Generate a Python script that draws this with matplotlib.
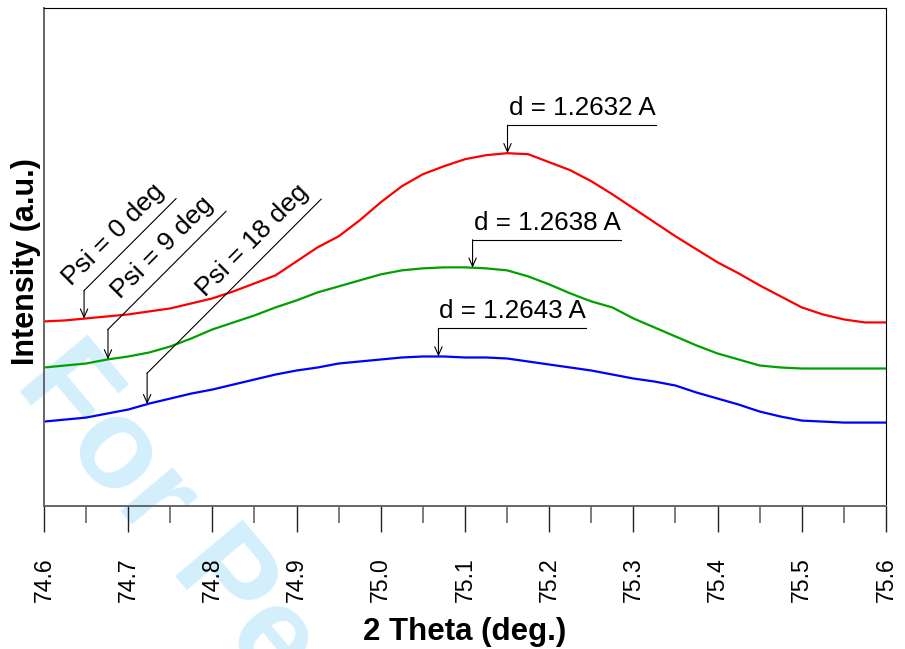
import matplotlib
matplotlib.use("Agg")
import matplotlib.pyplot as plt
from matplotlib.ticker import MultipleLocator
import numpy as np

plt.rcParams['font.family'] = ['Liberation Sans', 'DejaVu Sans']

# 2 theta grid (deg.)
two_theta = np.linspace(74.6, 75.6, 41)

# intensities (a.u.)
psi0 = [184, 185, 187, 189, 191, 194, 197, 202, 207, 214, 222, 230, 244, 258, 269,
        285, 303, 319, 331, 339, 346, 350, 352, 351, 343, 335, 324, 311, 297, 283,
        269, 256, 243, 232, 220, 209, 198, 191, 186, 183, 183]
psi9 = [138, 140, 142, 146, 149, 153, 159, 167, 176, 183, 190, 198, 205, 213, 219,
        225, 231, 235, 237, 238, 238, 237, 235, 229, 221, 212, 204, 198, 187, 178,
        169, 160, 152, 146, 140, 138, 137, 137, 137, 137, 137]
psi18 = [84, 86, 88, 92, 96, 102, 107, 112, 116, 121, 126, 131, 135, 138, 142,
         144, 146, 148, 149, 149, 148, 148, 147, 144, 141, 138, 135, 131, 127, 124,
         120, 113, 107, 101, 94, 89, 85, 84, 83, 83, 83]

xticks = [74.6, 74.7, 74.8, 74.9, 75.0, 75.1, 75.2, 75.3, 75.4, 75.5, 75.6]
xtick_labels = ['74.6', '74.7', '74.8', '74.9', '75.0', '75.1', '75.2', '75.3', '75.4', '75.5', '75.6']

psi_labels = ['Psi = 0 deg', 'Psi = 9 deg', 'Psi = 18 deg']
psi_pos = [74.6476, 74.676, 74.7225]
d_labels = ['d = 1.2632 A', 'd = 1.2638 A', 'd = 1.2643 A']
d_pos = [75.1505, 75.109, 75.0685]

fig = plt.figure(figsize=(9.05, 6.49), dpi=100)

# watermark behind everything
fig.text(0.0155, 0.408, 'For Peer Review', fontsize=92, fontweight='bold',
         color='#d3effc', rotation=-50, rotation_mode='anchor',
         ha='left', va='baseline', zorder=-5)

ax = fig.add_axes([0.0486, 0.2208, 0.9304, 0.7669])
ax.patch.set_visible(False)

curves = [psi0, psi9, psi18]
colors = ['#ff0000', '#00a000', '#0000ff']
for yv, c in zip(curves, colors):
    ax.plot(two_theta, yv, color=c, lw=1.6)

ax.set_xlim(74.6, 75.6)
ax.set_ylim(0, 497)
ax.set_yticks([])
ax.set_xticks(xticks)
ax.set_xticklabels(xtick_labels, rotation=90, fontsize=16.6)
ax.xaxis.set_minor_locator(MultipleLocator(0.05))
ax.tick_params(axis='x', which='major', direction='out', length=19, width=1.0,
               color='#222222', pad=18)
ax.tick_params(axis='x', which='minor', direction='out', length=12, width=1.2,
               color='#666666')

for s in ['left', 'bottom']:
    ax.spines[s].set_color('#666666')
    ax.spines[s].set_linewidth(1.4)
for s in ['top', 'right']:
    ax.spines[s].set_color('black')
    ax.spines[s].set_linewidth(0.8)

ax.set_xlabel('2 Theta (deg.)', fontsize=22.5, fontweight='bold', labelpad=11)
ax.set_ylabel('Intensity (a.u.)', fontsize=22, fontweight='bold')
ax.yaxis.set_label_coords(-0.004, 0.49)

to_px = ax.transData.transform
to_data = ax.transData.inverted().transform
arrow_kw = dict(arrowstyle='->,head_length=0.5,head_width=0.22', color='black',
                lw=0.8, shrinkA=0, shrinkB=0, mutation_scale=12)

# d-spacing labels over the peaks
for lab, xp, yv in zip(d_labels, d_pos, curves):
    tip = (xp, np.interp(xp, two_theta, yv))
    tx, ty = to_px(tip)
    corner = to_data((tx, ty + 28))
    end = to_data((tx + 148, ty + 28))
    ax.annotate('', xy=tip, xytext=corner, arrowprops=arrow_kw, annotation_clip=False)
    ax.plot([corner[0], end[0]], [corner[1], end[1]], color='black', lw=0.8, clip_on=False)
    tpos = to_data((tx + 1, ty + 38))
    ax.text(tpos[0], tpos[1], lab, fontsize=18.7, ha='left', va='baseline')

# psi labels on diagonal leaders
diag = [92, 118, 174]
rise = [28, 30, 31]
for lab, xp, yv, dl, rs in zip(psi_labels, psi_pos, curves, diag, rise):
    tip = (xp, np.interp(xp, two_theta, yv))
    tx, ty = to_px(tip)
    corner = to_data((tx, ty + rs))
    end = to_data((tx + dl, ty + rs + dl))
    ax.annotate('', xy=tip, xytext=corner, arrowprops=arrow_kw, annotation_clip=False)
    ax.plot([corner[0], end[0]], [corner[1], end[1]], color='black', lw=0.8, clip_on=False)
    k = 1 / np.sqrt(2)
    ax_, ay_ = tx + dl - 4 * k - 12 * k, ty + rs + dl - 4 * k + 12 * k
    tpos = to_data((ax_, ay_))
    ax.text(tpos[0], tpos[1], lab, fontsize=19, rotation=45, rotation_mode='anchor',
            ha='right', va='baseline')

fig.savefig('out.png', dpi=100)
